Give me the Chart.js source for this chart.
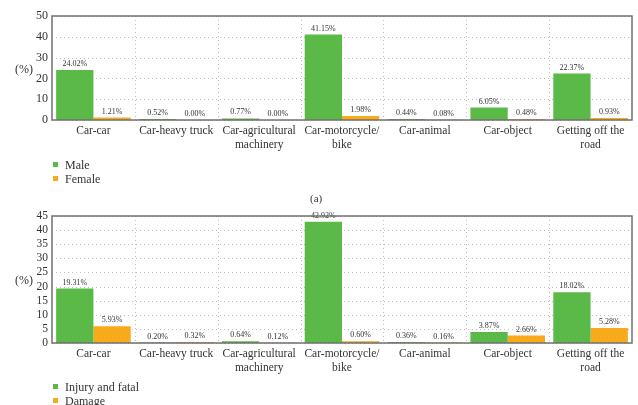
<!DOCTYPE html>
<html>
<head>
<meta charset="utf-8">
<script src="https://cdn.jsdelivr.net/npm/chart.js@4/dist/chart.umd.min.js"></script>
<style>
  html, body { margin: 0; padding: 0; background: #fff; }
  #wrap { position: relative; width: 638px; height: 405px; overflow: hidden; font-family: "Liberation Serif", "DejaVu Serif", serif; color: #333; }
  canvas { position: absolute; left: 0; }
  .txt { position: absolute; white-space: nowrap; font-size: 12px; line-height: 14px; }
  .sw { display: inline-block; width: 5px; height: 5px; margin-right: 7px; vertical-align: 2px; }
</style>
</head>
<body>
<div id="wrap">
  <canvas id="chartA" width="638" height="160" style="top:0;width:638px;height:160px"></canvas>
  <canvas id="chartB" width="638" height="197" style="top:186px;width:638px;height:197px"></canvas>

  <div class="txt" style="left:15px;top:62px">(%)</div>
  <div class="txt" style="left:53px;top:158px"><span class="sw" style="background:#5bb947"></span>Male</div>
  <div class="txt" style="left:53px;top:172px"><span class="sw" style="background:#f6aa1c"></span>Female</div>
  <div class="txt" style="left:310px;top:191px;font-size:11px">(a)</div>

  <div class="txt" style="left:15px;top:273px">(%)</div>
  <div class="txt" style="left:53px;top:380px"><span class="sw" style="background:#5bb947"></span>Injury and fatal</div>
  <div class="txt" style="left:53px;top:394px"><span class="sw" style="background:#f6aa1c"></span>Damage</div>
</div>
<script>
// Collision types on the x axis
const categories = [
  "Car-car",
  "Car-heavy truck",
  ["Car-agricultural", "machinery"],
  ["Car-motorcycle/", "bike"],
  "Car-animal",
  "Car-object",
  ["Getting off the", "road"]
];

// (a) share of accidents by driver gender, %
const maleValues   = [24.02, 0.52, 0.77, 41.15, 0.44, 6.05, 22.37];
const femaleValues = [1.21, 0.00, 0.00, 1.98, 0.08, 0.48, 0.93];

// (b) share of accidents by outcome, %
const injuryValues = [19.31, 0.20, 0.64, 42.92, 0.36, 3.87, 18.02];
const damageValues = [5.93, 0.32, 0.12, 0.60, 0.16, 2.66, 5.28];

// Y axis ticks
const ticksA = [0, 10, 20, 30, 40, 50];
const ticksB = [0, 5, 10, 15, 20, 25, 30, 35, 40, 45];

const GREEN = "#5bb947";
const ORANGE = "#f6aa1c";
const SERIF = "'Liberation Serif', 'DejaVu Serif', serif";

// Dotted grid: horizontal at each y tick, vertical between categories
const dottedGrid = {
  id: "dottedGrid",
  beforeDatasetsDraw(chart) {
    const a = chart.chartArea;
    const ctx = chart.ctx;
    const xs = chart.scales.x;
    const ys = chart.scales.y;
    ctx.save();
    ctx.strokeStyle = "#bdbdbd";
    ctx.lineWidth = 1;
    ctx.setLineDash([1, 3]);
    ys.ticks.forEach(t => {
      const y = Math.round(ys.getPixelForValue(t.value)) + 0.5;
      ctx.beginPath();
      ctx.moveTo(a.left, y);
      ctx.lineTo(a.right, y);
      ctx.stroke();
    });
    for (let i = 0; i < categories.length - 1; i++) {
      const x = Math.round((xs.getPixelForValue(i) + xs.getPixelForValue(i + 1)) / 2) + 0.5;
      ctx.beginPath();
      ctx.moveTo(x, a.top);
      ctx.lineTo(x, a.bottom);
      ctx.stroke();
    }
    ctx.restore();
  }
};

// Percentage labels above each bar
const valueLabels = {
  id: "valueLabels",
  afterDatasetsDraw(chart) {
    const ctx = chart.ctx;
    ctx.save();
    ctx.font = "8px " + SERIF;
    ctx.fillStyle = "#333";
    ctx.textAlign = "center";
    ctx.textBaseline = "bottom";
    chart.data.datasets.forEach((ds, i) => {
      chart.getDatasetMeta(i).data.forEach((bar, j) => {
        ctx.fillText(ds.data[j].toFixed(2) + "%", bar.x, bar.y - 2);
      });
    });
    ctx.restore();
  }
};

// Full frame around the plot area
const frame = {
  id: "frame",
  afterDraw(chart) {
    const a = chart.chartArea;
    const ctx = chart.ctx;
    ctx.save();
    ctx.strokeStyle = "#707070";
    ctx.lineWidth = 1.5;
    ctx.strokeRect(a.left, a.top, a.right - a.left, a.bottom - a.top);
    ctx.restore();
  }
};

function makeChart(id, s1, s2, ticks, padTop, tickSize) {
  const max = ticks[ticks.length - 1];
  const step = ticks[1] - ticks[0];
  return new Chart(document.getElementById(id), {
    type: "bar",
    data: {
      labels: categories,
      datasets: [
        { data: s1, backgroundColor: GREEN, categoryPercentage: 0.9, barPercentage: 1.0 },
        { data: s2, backgroundColor: ORANGE, categoryPercentage: 0.9, barPercentage: 1.0 }
      ]
    },
    options: {
      responsive: false,
      animation: false,
      events: [],
      layout: { padding: { top: padTop, right: 6, left: 0, bottom: 0 } },
      plugins: { legend: { display: false }, tooltip: { enabled: false } },
      scales: {
        x: {
          grid: { display: false, drawTicks: false },
          border: { display: false },
          ticks: { color: "#333", font: { family: SERIF, size: 11.5, lineHeight: 1.2 }, padding: 4, maxRotation: 0, autoSkip: false },
          afterFit(scale) { scale.height = 40; }
        },
        y: {
          min: 0, max: max,
          grid: { display: false, drawTicks: false },
          border: { display: false },
          ticks: { stepSize: step, autoSkip: false, color: "#333", font: { family: SERIF, size: tickSize }, padding: 4 },
          afterFit(scale) { scale.width = 52; }
        }
      }
    },
    plugins: [dottedGrid, valueLabels, frame]
  });
}

makeChart("chartA", maleValues, femaleValues, ticksA, 16, 12);
makeChart("chartB", injuryValues, damageValues, ticksB, 30, 11.5);
</script>
</body>
</html>
